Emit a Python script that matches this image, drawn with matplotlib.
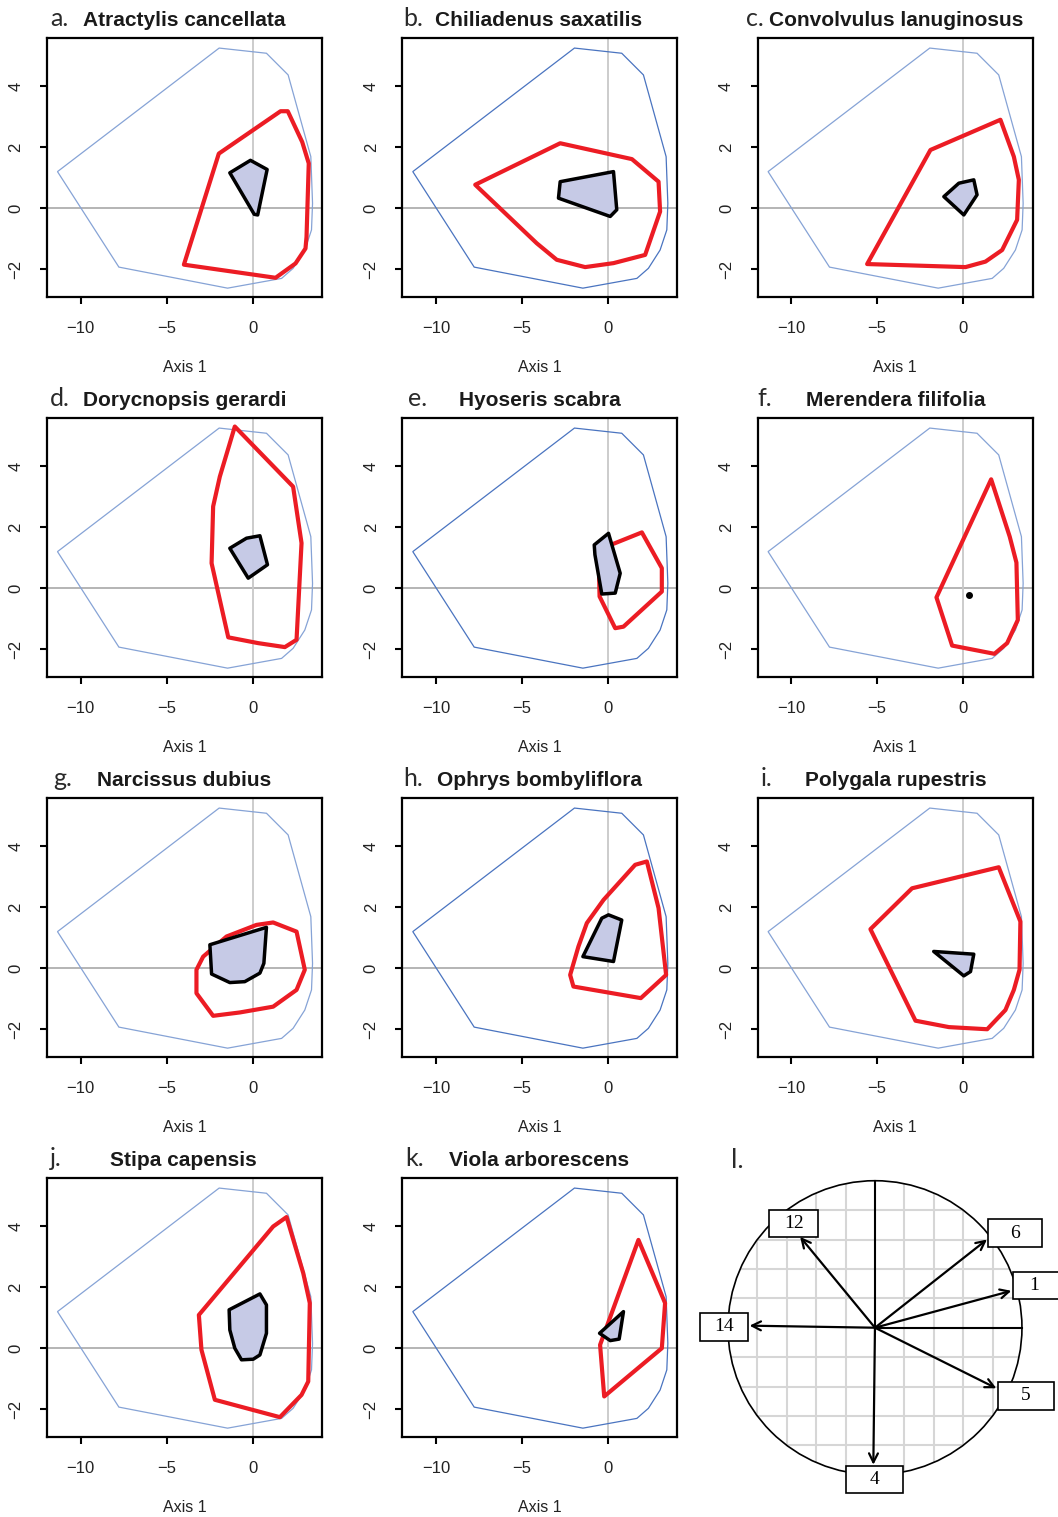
import numpy as np
import matplotlib.pyplot as plt
from matplotlib.patches import Polygon, Circle, Rectangle

# PCA space shared by all panels (axis 1 vs axis 2)
bg_hull = [(-11.34, 1.20), (-1.94, 5.25), (0.81, 5.08), (2.07, 4.37), (3.39, 1.69),
           (3.49, 0.16), (3.43, -0.71), (3.04, -1.37), (2.36, -1.97), (1.69, -2.30),
           (-1.45, -2.62), (-7.77, -1.93)]

species = ["Atractylis cancellata", "Chiliadenus saxatilis", "Convolvulus lanuginosus",
           "Dorycnopsis gerardi", "Hyoseris scabra", "Merendera filifolia",
           "Narcissus dubius", "Ophrys bombyliflora", "Polygala rupestris",
           "Stipa capensis", "Viola arborescens"]
letters = ["a.", "b.", "c.", "d.", "e.", "f.", "g.", "h.", "i.", "j.", "k.", "l."]

# outer hull (red) and inner hull (black, filled) for each species
atra_outer = [(-3.99, -1.85), (-1.96, 1.79), (1.63, 3.18), (2.05, 3.18), (2.89, 2.17),
              (3.27, 1.47), (3.14, -0.94), (3.08, -1.32), (2.50, -1.81), (1.34, -2.28)]
atra_inner = [(-1.32, 1.16), (-0.12, 1.57), (0.85, 1.27), (0.30, -0.22), (0.10, -0.20)]

chil_outer = [(-7.71, 0.77), (-2.77, 2.13), (1.40, 1.61), (2.95, 0.87), (3.04, -0.11),
              (2.17, -1.53), (0.33, -1.80), (-1.32, -1.93), (-2.97, -1.69), (-4.13, -1.15)]
chil_inner = [(-2.77, 0.87), (0.33, 1.20), (0.52, -0.05), (0.14, -0.27), (-2.87, 0.33)]

conv_outer = [(-5.58, -1.83), (-1.90, 1.91), (2.17, 2.90), (2.95, 1.69), (3.24, 0.93),
              (3.14, -0.38), (2.27, -1.37), (1.30, -1.75), (0.14, -1.93)]
conv_inner = [(-1.12, 0.38), (-0.25, 0.82), (0.62, 0.93), (0.81, 0.44), (0.04, -0.22)]

dory_outer = [(-1.03, 5.30), (2.36, 3.33), (2.85, 1.48), (2.56, -1.69), (1.88, -1.93),
              (0.33, -1.80), (-1.41, -1.61), (-2.38, 0.82), (-2.29, 2.68), (-1.90, 3.66)]
dory_inner = [(-1.32, 1.31), (-0.35, 1.64), (0.43, 1.72), (0.87, 0.77), (-0.25, 0.33)]

hyos_outer = [(-0.54, 1.26), (1.98, 1.83), (3.14, 0.66), (3.14, -0.11), (0.91, -1.26),
              (0.43, -1.31), (-0.48, -0.27)]
hyos_inner = [(-0.79, 1.42), (0.04, 1.80), (0.72, 0.49), (0.43, -0.16), (-0.35, -0.19),
              (-0.75, 1.10)]

meri_outer = [(1.63, 3.57), (2.71, 1.69), (3.10, 0.84), (3.18, -1.04), (2.56, -1.80),
              (1.82, -2.15), (-0.64, -1.88), (-1.55, -0.30)]
meri_inner = [(0.33, -0.22)]

narc_outer = [(-3.26, -0.05), (-2.87, 0.38), (-1.51, 1.04), (0.23, 1.42), (1.20, 1.50),
              (2.56, 1.20), (3.04, -0.05), (2.56, -0.71), (1.20, -1.26), (-0.74, -1.45),
              (-2.29, -1.56), (-3.26, -0.82)]
narc_inner = [(-2.48, 0.77), (0.81, 1.34), (0.66, 0.16), (0.43, -0.16), (-0.45, -0.44),
              (-1.32, -0.47), (-2.38, -0.19)]

ophr_outer = [(-1.22, 1.48), (-0.25, 2.24), (1.59, 3.39), (2.27, 3.50), (2.95, 1.97),
              (3.39, -0.22), (1.92, -0.98), (-2.00, -0.60), (-2.19, -0.22), (-1.71, 0.71)]
ophr_inner = [(-1.45, 0.38), (-0.35, 1.64), (0.04, 1.75), (0.81, 1.58), (0.33, 0.22)]

poly_outer = [(-5.39, 1.28), (-2.97, 2.62), (2.07, 3.31), (3.33, 1.53), (3.28, -0.05),
              (2.95, -0.71), (2.46, -1.37), (1.40, -2.00), (-0.83, -1.93), (-2.77, -1.72)]
poly_inner = [(-1.71, 0.55), (0.62, 0.46), (0.43, -0.11), (0.04, -0.25)]

stip_outer = [(-3.12, 1.09), (1.20, 3.99), (1.98, 4.30), (2.95, 2.46), (3.33, 1.48),
              (3.24, -1.09), (2.85, -1.53), (1.59, -2.26), (-2.19, -1.69), (-2.97, -0.05)]
stip_inner = [(-1.36, 1.26), (0.43, 1.78), (0.81, 1.42), (0.81, 0.49), (0.43, -0.22),
              (0.04, -0.36), (-0.64, -0.38), (-1.03, 0.00), (-1.32, 0.60)]

viol_outer = [(1.78, 3.55), (3.33, 1.48), (3.14, 0.00), (-0.21, -1.58), (-0.45, 0.11)]
viol_inner = [(-0.48, 0.49), (0.91, 1.20), (0.66, 0.30), (0.14, 0.25)]

outer_hulls = [atra_outer, chil_outer, conv_outer, dory_outer, hyos_outer, meri_outer,
               narc_outer, ophr_outer, poly_outer, stip_outer, viol_outer]
inner_hulls = [atra_inner, chil_inner, conv_inner, dory_inner, hyos_inner, meri_inner,
               narc_inner, ophr_inner, poly_inner, stip_inner, viol_inner]

# correlation circle: variable loadings
var_labels = ["1", "4", "5", "6", "12", "14"]
var_x = [0.928, -0.011, 0.826, 0.762, -0.509, -0.853]
var_y = [0.251, -0.932, -0.412, 0.600, 0.618, 0.014]

W, H = 1058, 1517
fig = plt.figure(figsize=(W / 100, H / 100), dpi=100)


def px_axes(left, top, width, height):
    return fig.add_axes([left / W, 1 - (top + height) / H, width / W, height / H])


SANS = "Liberation Sans"
# pixel offsets of the letter and of the species name from the axes left edge
letter_off = [3, 1, -12, 3, 6, 0, 6, 1, 3, 3, 3]
name_off = [36, 33, 11, 36, 57, 48, 50, 35, 47, 63, 47]

for i, name in enumerate(species):
    row, col = divmod(i, 3)
    left = 47 + 355.3 * col
    top = 38 + 380 * row
    ax = px_axes(left, top, 275, 259)

    ax.axhline(0, color="#a0a0a0", lw=1.1, zorder=0)
    ax.axvline(0, color="#c8c8c8", lw=1.3, zorder=0)

    blue = "#4a74c0" if col == 1 else "#86a3d6"
    ax.add_patch(Polygon(bg_hull, closed=True, fill=False, ec=blue, lw=0.9, zorder=1))
    ax.add_patch(Polygon(outer_hulls[i], closed=True, fill=False, ec="#ec1c24",
                         lw=3.0, joinstyle="round", zorder=2))
    inner = inner_hulls[i]
    if len(inner) > 2:
        ax.add_patch(Polygon(inner, closed=True, fc="#c6cae6", ec="black",
                             lw=2.5, joinstyle="round", zorder=3))
    else:
        ax.plot([p[0] for p in inner], [p[1] for p in inner], "o", color="black",
                ms=4, zorder=3)

    ax.set_xlim(-11.95, 4.04)
    ax.set_ylim(-2.91, 5.58)
    ax.set_xticks([-10, -5, 0])
    ax.set_yticks([-2, 0, 2, 4])
    ax.set_xticklabels(["\u221210", "\u22125", "0"], fontfamily=SANS, fontsize=12)
    ax.set_yticklabels(["\u22122", "0", "2", "4"], fontfamily=SANS, fontsize=12,
                       rotation=90, va="center")
    ax.tick_params(axis="both", direction="out", length=5, width=1.5, color="black",
                   labelcolor="#222222")
    ax.tick_params(axis="x", pad=12.5)
    ax.tick_params(axis="y", pad=12)
    for sp in ax.spines.values():
        sp.set_linewidth(1.6)

    ax.text(0.5, -0.274, "Axis 1", transform=ax.transAxes, ha="center", va="center",
            fontfamily=SANS, fontsize=11.5, color="#222222")

    base_y = 1 - (top - 12) / H
    fig.text((left + letter_off[i]) / W, base_y, letters[i], fontfamily="Lato",
             fontsize=18, va="baseline", ha="left", color="#2a2a2a")
    fig.text((left + name_off[i]) / W, base_y, name, fontfamily=SANS,
             fontweight="bold", fontsize=15, va="baseline", ha="left", color="#1a1a1a")

# panel l: correlation circle
axl = px_axes(700, 1150, 358, 360)
axl.set_xlim(-1.190, 1.245)
axl.set_ylim(-1.240, 1.209)
axl.set_aspect("equal")
axl.axis("off")

circ = Circle((0, 0), 1.0, fill=False, ec="black", lw=1.2, zorder=3)
axl.add_patch(circ)
for g in np.arange(-0.8, 0.81, 0.2):
    if abs(g) < 1e-9:
        continue
    ln1, = axl.plot([g, g], [-1, 1], color="#d6d6d6", lw=1.5, zorder=1)
    ln2, = axl.plot([-1, 1], [g, g], color="#d6d6d6", lw=1.5, zorder=1)
    ln1.set_clip_path(circ)
    ln2.set_clip_path(circ)

axl.plot([0, 0], [0, 1], color="black", lw=1.5, zorder=2)
axl.plot([0, 1], [0, 0], color="black", lw=1.5, zorder=2)

for lx, ly in zip(var_x, var_y):
    axl.annotate("", xy=(lx, ly), xytext=(0, 0),
                 arrowprops=dict(arrowstyle="->", lw=1.6, color="black",
                                 mutation_scale=16, shrinkA=0, shrinkB=0),
                 zorder=4)

# label boxes (x0, x1, y0, y1) in circle units
boxes = {"1": (0.941, 1.30, 0.193, 0.381), "4": (-0.197, 0.188, -1.122, -0.941),
         "5": (0.835, 1.218, -0.560, -0.367), "6": (0.771, 1.134, 0.551, 0.737),
         "12": (-0.719, -0.386, 0.615, 0.801), "14": (-1.19, -0.862, -0.088, 0.098)}
text_x = {"1": 1.084}
for lab in var_labels:
    x0, x1, y0, y1 = boxes[lab]
    axl.add_patch(Rectangle((x0, y0), x1 - x0, y1 - y0, fc="white", ec="black",
                            lw=1.2, zorder=5, clip_on=False))
    tx = text_x.get(lab, (x0 + x1) / 2)
    axl.text(tx, (y0 + y1) / 2, lab, ha="center", va="center", fontfamily="Liberation Serif",
             fontsize=14, zorder=6)

fig.text(731 / W, 1 - 1168 / H, letters[11], fontfamily="Lato",
         fontsize=19, va="baseline", ha="left", color="#2a2a2a")

fig.savefig("out.png", dpi=100)
